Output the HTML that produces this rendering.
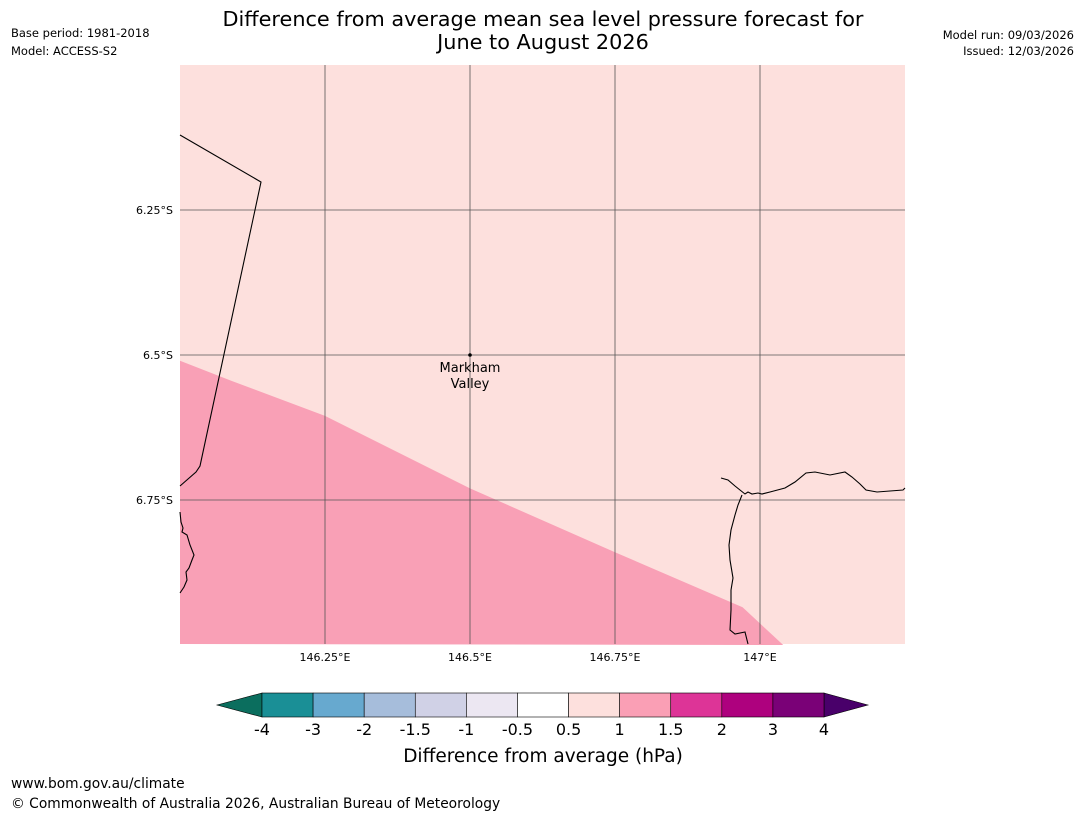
<!DOCTYPE html>
<html><head><meta charset="utf-8"><style>
body{margin:0;background:#fff;font-family:"Liberation Sans","DejaVu Sans",sans-serif;}
svg text{font-family:"DejaVu Sans","Liberation Sans",sans-serif;}
</style></head><body>
<svg id="chart" width="1085" height="816" viewBox="0 0 1085 816">
<text x="543" y="26" font-size="20.8" text-anchor="middle">Difference from average mean sea level pressure forecast for</text>
<text x="543" y="49" font-size="20.8" text-anchor="middle">June to August 2026</text>
<text x="11" y="37" font-size="11.5">Base period: 1981-2018</text>
<text x="11" y="55" font-size="11.5">Model: ACCESS-S2</text>
<text x="1074" y="39" font-size="11.5" text-anchor="end">Model run: 09/03/2026</text>
<text x="1074" y="55" font-size="11.5" text-anchor="end">Issued: 12/03/2026</text>
<g id="map"></g>
<g id="cbar"></g>
<text x="543" y="762" font-size="18.5" text-anchor="middle">Difference from average (hPa)</text>
<text x="11" y="788" font-size="13.8">www.bom.gov.au/climate</text>
<text x="11" y="808" font-size="13.8">© Commonwealth of Australia 2026, Australian Bureau of Meteorology</text>
</svg>
<script>
const lonTicks=[146.25,146.5,146.75,147];
const lonLabels=["146.25°E","146.5°E","146.75°E","147°E"];
const latTicks=[6.25,6.5,6.75];
const latLabels=["6.25°S","6.5°S","6.75°S"];
const cbarLevels=[-4,-3,-2,-1.5,-1,-0.5,0.5,1,1.5,2,3,4];
const cbarLabels=["-4","-3","-2","-1.5","-1","-0.5","0.5","1","1.5","2","3","4"];
const cbarColors=["#1a8f96","#67a9cf","#a6bddb","#d0d1e6","#ece7f2","#ffffff","#fde0dd","#fa9fb5","#dd3497","#ae017e","#7a0177"];
const underColor="#0b6e5e", overColor="#49006a";
const anomLon=[146.0,146.09,146.25,146.5,146.75,146.97,147.04];
const anomLat=[6.51,6.545,6.605,6.73,6.84,6.935,7.0];
// geographic outlines in map pixel coordinates
const border=[[180,135],[261,182],[200,466],[196,472],[180,486]];
const coastR=[[721,478],[728,480],[735,486],[740,490],[745,494],[748,492],[752,494],[758,493],[762,494],[770,492],[785,488],[795,482],[806,473],[815,472],[830,475],[845,472],[852,477],[860,484],[866,490],[877,492],[890,491],[903,490],[905,488]];
const coastR2=[[742,495],[738,505],[735,515],[731,530],[729,545],[730,560],[733,578],[731,590],[731,610],[730,630],[735,634],[745,632],[748,644]];
const coastL=[[180,512],[181,522],[183,528],[182,532],[187,535],[190,545],[194,555],[192,560],[189,568],[186,572],[187,580],[184,587],[180,593]];
const NS="http://www.w3.org/2000/svg";
const X=l=>180+(l-146)*580, Y=la=>65+(la-6)*580;
function mk(p,t,a){const e=document.createElementNS(NS,t);for(const k in a)e.setAttribute(k,a[k]);p.appendChild(e);return e;}
const map=document.getElementById('map');
const bg=mk(map,'rect',{x:180,y:65,width:725,height:579,fill:'#fde0dd'});


let pts=anomLon.map((l,i)=>X(l)+','+Y(anomLat[i])).join(' ')+' 180,644';
const poly=mk(map,'polygon',{points:pts,fill:'#f9a0b6'});


lonTicks.forEach((l,i)=>{
 const g=mk(map,'line',{x1:X(l),x2:X(l),y1:65,y2:644,stroke:'#555','stroke-width':0.8});
 
 
 const t=mk(map,'text',{x:X(l),y:661,'font-size':11,'text-anchor':'middle'});t.textContent=lonLabels[i];
 
 
});
latTicks.forEach((l,i)=>{
 const g=mk(map,'line',{x1:180,x2:905,y1:Y(l),y2:Y(l),stroke:'#555','stroke-width':0.8});
 
 
 const t=mk(map,'text',{x:173,y:Y(l)+4,'font-size':11,'text-anchor':'end'});t.textContent=latLabels[i];
 
 
});
[[border,'border-line'],[coastR,'coastline-north'],[coastR2,'coastline-river'],[coastL,'coastline-west']].forEach(([arr,n])=>{
 const p=mk(map,'polyline',{points:arr.map(q=>q[0]+','+q[1]).join(' '),fill:'none',stroke:'#000','stroke-width':1.1});
 
 
});
const dot=mk(map,'circle',{cx:X(146.5),cy:Y(6.5),r:1.8,fill:'#000'});


const lb=mk(map,'text',{x:470,y:372,'font-size':13,'text-anchor':'middle'});lb.textContent='Markham';


const lb2=mk(map,'text',{x:470,y:388,'font-size':13,'text-anchor':'middle'});lb2.textContent='Valley';


const cb=document.getElementById('cbar');
const x0=262,x1=824,yT=693,yB=717,n=cbarColors.length,w=(x1-x0)/n;
const u=mk(cb,'polygon',{points:`217,705 ${x0},${yT} ${x0},${yB}`,fill:underColor,stroke:'#000','stroke-width':0.6});


const o=mk(cb,'polygon',{points:`868,705 ${x1},${yT} ${x1},${yB}`,fill:overColor,stroke:'#000','stroke-width':0.6});


cbarColors.forEach((c,i)=>{
 const r=mk(cb,'rect',{x:x0+i*w,y:yT,width:w,height:yB-yT,fill:c,stroke:'#000','stroke-width':0.6});
 
 
});
cbarLevels.forEach((v,i)=>{
 const t=mk(cb,'text',{x:x0+i*w,y:735,'font-size':16,'text-anchor':'middle'});t.textContent=cbarLabels[i];
 
 
});
</script>
</body></html>
